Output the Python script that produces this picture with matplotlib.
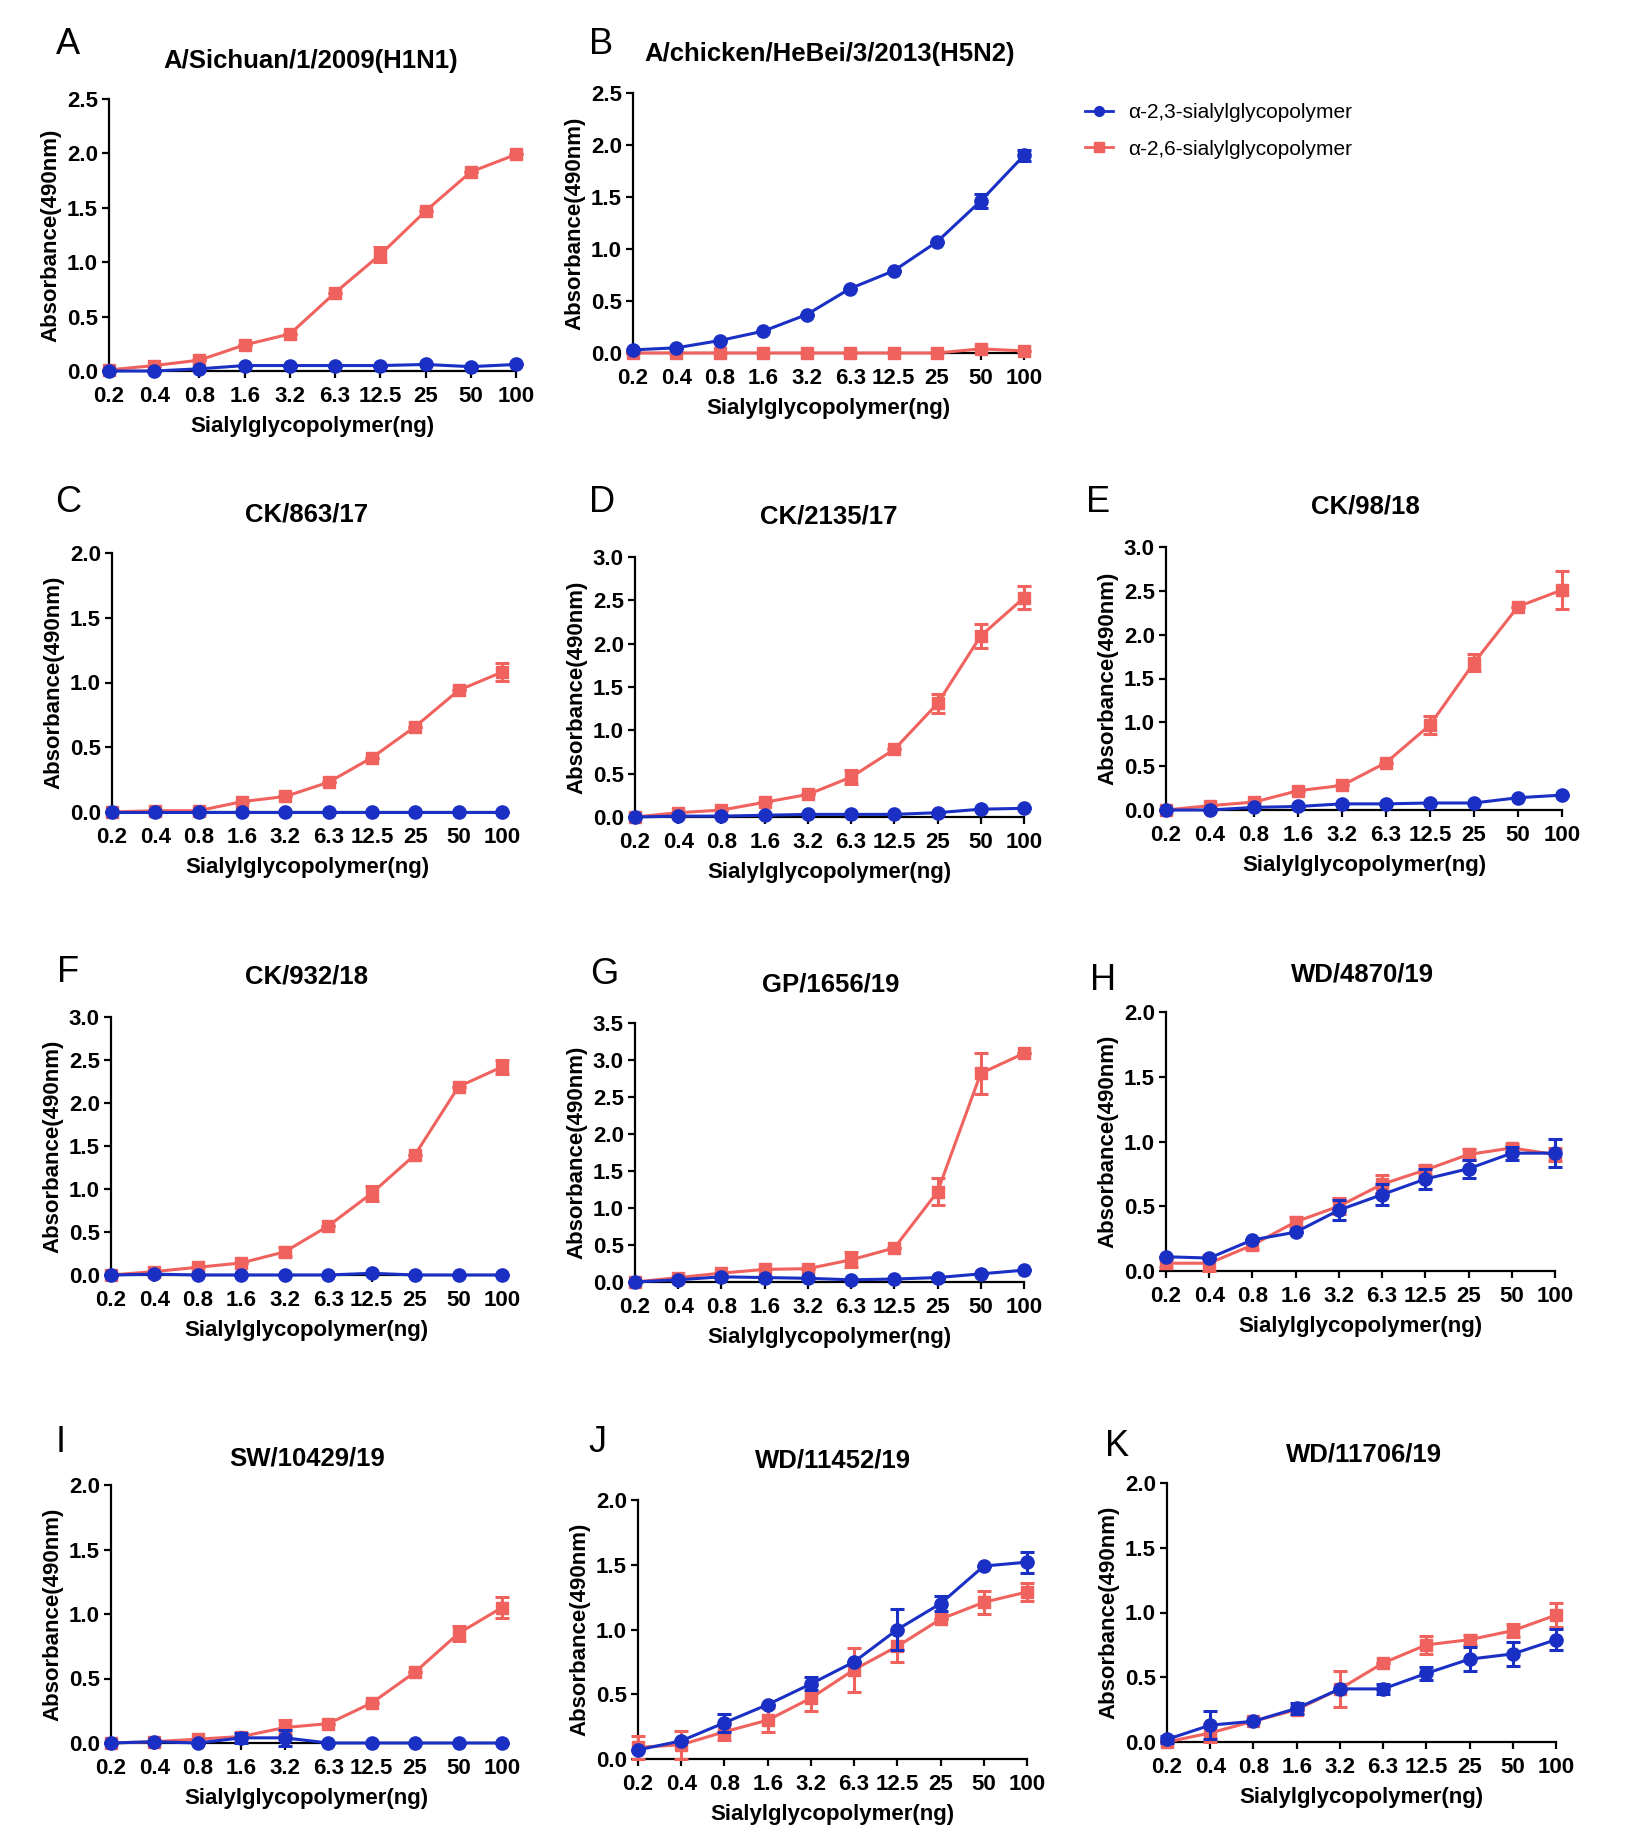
import matplotlib
matplotlib.use("Agg")
import matplotlib.pyplot as plt
from matplotlib.lines import Line2D

W, H = 1627, 1847
plt.rcParams['font.family'] = ['Liberation Sans', 'DejaVu Sans']

doses = ['0.2', '0.4', '0.8', '1.6', '3.2', '6.3', '12.5', '25', '50', '100']
xlabel = 'Sialylglycopolymer(ng)'
ylabel = 'Absorbance(490nm)'
label23 = 'α-2,3-sialylglycopolymer'
label26 = 'α-2,6-sialylglycopolymer'

# mean absorbance and error per virus
A_23 = [0.0, 0.0, 0.02, 0.05, 0.05, 0.05, 0.05, 0.06, 0.04, 0.06]
A_23_err = [0, 0, 0, 0, 0, 0, 0, 0, 0, 0]
A_26 = [0.01, 0.05, 0.10, 0.24, 0.34, 0.72, 1.07, 1.47, 1.83, 1.99]
A_26_err = [0, 0, 0, 0, 0, 0, 0.07, 0, 0, 0]

B_23 = [0.03, 0.05, 0.12, 0.21, 0.37, 0.62, 0.79, 1.07, 1.46, 1.90]
B_23_err = [0, 0, 0, 0, 0, 0, 0, 0, 0.07, 0.05]
B_26 = [0.0, 0.0, 0.0, 0.0, 0.0, 0.0, 0.0, 0.0, 0.04, 0.02]
B_26_err = [0, 0, 0, 0, 0, 0, 0, 0, 0, 0]

C_23 = [0.0, 0.0, 0.0, 0.0, 0.0, 0.0, 0.0, 0.0, 0.0, 0.0]
C_23_err = [0, 0, 0, 0, 0, 0, 0, 0, 0, 0]
C_26 = [0.0, 0.01, 0.01, 0.08, 0.12, 0.23, 0.42, 0.66, 0.94, 1.08]
C_26_err = [0, 0, 0, 0, 0, 0, 0, 0, 0, 0.07]

D_23 = [0.0, 0.01, 0.01, 0.02, 0.03, 0.03, 0.03, 0.05, 0.09, 0.10]
D_23_err = [0, 0, 0, 0, 0, 0, 0, 0, 0, 0]
D_26 = [0.0, 0.05, 0.08, 0.17, 0.26, 0.46, 0.78, 1.31, 2.09, 2.53]
D_26_err = [0, 0, 0, 0, 0, 0.08, 0, 0.11, 0.14, 0.13]

E_23 = [0.0, 0.0, 0.03, 0.04, 0.07, 0.07, 0.08, 0.08, 0.14, 0.17]
E_23_err = [0, 0, 0, 0, 0, 0, 0, 0, 0, 0]
E_26 = [0.0, 0.05, 0.09, 0.22, 0.28, 0.54, 0.97, 1.68, 2.32, 2.51]
E_26_err = [0, 0, 0, 0, 0, 0, 0.10, 0.10, 0, 0.22]

F_23 = [0.0, 0.01, 0.0, 0.0, 0.0, 0.0, 0.02, 0.0, 0.0, 0.0]
F_23_err = [0, 0, 0, 0, 0, 0, 0, 0, 0, 0]
F_26 = [0.0, 0.04, 0.09, 0.14, 0.27, 0.57, 0.95, 1.40, 2.19, 2.42]
F_26_err = [0, 0, 0, 0, 0.05, 0, 0.09, 0, 0, 0.08]

G_23 = [0.0, 0.03, 0.07, 0.06, 0.05, 0.03, 0.04, 0.06, 0.11, 0.16]
G_23_err = [0, 0, 0, 0, 0, 0, 0, 0, 0, 0]
G_26 = [0.0, 0.06, 0.12, 0.17, 0.18, 0.30, 0.46, 1.22, 2.82, 3.09]
G_26_err = [0, 0, 0, 0, 0, 0.10, 0, 0.18, 0.28, 0]

H_23 = [0.11, 0.10, 0.24, 0.30, 0.47, 0.59, 0.71, 0.79, 0.91, 0.91]
H_23_err = [0, 0, 0, 0, 0.08, 0.08, 0.08, 0.07, 0.05, 0.11]
H_26 = [0.06, 0.06, 0.20, 0.38, 0.50, 0.67, 0.78, 0.90, 0.95, 0.90]
H_26_err = [0.03, 0.06, 0.03, 0.04, 0.06, 0.07, 0.04, 0.04, 0.03, 0.05]

I_23 = [0.0, 0.01, 0.0, 0.04, 0.04, 0.0, 0.0, 0.0, 0.0, 0.0]
I_23_err = [0, 0, 0, 0.04, 0.06, 0, 0, 0, 0, 0]
I_26 = [0.0, 0.01, 0.03, 0.05, 0.12, 0.15, 0.31, 0.55, 0.85, 1.05]
I_26_err = [0, 0, 0, 0, 0.06, 0, 0, 0, 0.06, 0.08]

J_23 = [0.07, 0.14, 0.28, 0.42, 0.58, 0.75, 1.00, 1.20, 1.49, 1.52]
J_23_err = [0, 0, 0.07, 0, 0.05, 0, 0.16, 0.06, 0, 0.08]
J_26 = [0.09, 0.11, 0.21, 0.30, 0.47, 0.69, 0.87, 1.08, 1.21, 1.29]
J_26_err = [0.09, 0.11, 0.06, 0.09, 0.10, 0.17, 0.12, 0, 0.09, 0.07]

K_23 = [0.02, 0.13, 0.16, 0.26, 0.41, 0.41, 0.53, 0.64, 0.68, 0.79]
K_23_err = [0.03, 0.11, 0, 0.04, 0, 0.04, 0.05, 0.09, 0.09, 0.08]
K_26 = [0.0, 0.07, 0.16, 0.25, 0.41, 0.61, 0.75, 0.79, 0.86, 0.98]
K_26_err = [0, 0.07, 0, 0, 0.14, 0, 0.07, 0.04, 0.05, 0.09]

# letter, title, ymax
panels = [
    ('A', 'A/Sichuan/1/2009(H1N1)', 2.5, A_23, A_23_err, A_26, A_26_err),
    ('B', 'A/chicken/HeBei/3/2013(H5N2)', 2.5, B_23, B_23_err, B_26, B_26_err),
    ('C', 'CK/863/17', 2.0, C_23, C_23_err, C_26, C_26_err),
    ('D', 'CK/2135/17', 3.0, D_23, D_23_err, D_26, D_26_err),
    ('E', 'CK/98/18', 3.0, E_23, E_23_err, E_26, E_26_err),
    ('F', 'CK/932/18', 3.0, F_23, F_23_err, F_26, F_26_err),
    ('G', 'GP/1656/19', 3.5, G_23, G_23_err, G_26, G_26_err),
    ('H', 'WD/4870/19', 2.0, H_23, H_23_err, H_26, H_26_err),
    ('I', 'SW/10429/19', 2.0, I_23, I_23_err, I_26, I_26_err),
    ('J', 'WD/11452/19', 2.0, J_23, J_23_err, J_26, J_26_err),
    ('K', 'WD/11706/19', 2.0, K_23, K_23_err, K_26, K_26_err),
]

# layout in pixels: y-axis x, top y, zero y, last tick x, title xy, letter xy
layout = [
    (109, 99, 371, 516, 311, 61, 68, 44),
    (633, 93, 353, 1024, 830, 54, 601, 44),
    (112, 553, 812, 502, 307, 514, 68, 502),
    (635, 557, 817, 1024, 829, 517, 602, 502),
    (1166, 547, 810, 1562, 1365, 506, 1098, 502),
    (111, 1017, 1275, 502, 307, 977, 68, 972),
    (635, 1023, 1282, 1024, 831, 984, 604, 975),
    (1166, 1012, 1271, 1555, 1362, 974, 1103, 980),
    (111, 1485, 1743, 502, 307, 1459, 61, 1443),
    (638, 1500, 1759, 1027, 833, 1461, 597, 1443),
    (1167, 1483, 1742, 1556, 1364, 1454, 1117, 1446),
]

blue = '#1a2fc4'
red = '#f0625d'

fig = plt.figure(figsize=(W / 100, H / 100), dpi=100)

for (letter, title, ymax, b, be, r, re), lay in zip(panels, layout):
    x0, ytop, y0, xlast, tx, ty, lx, ly = lay
    ax = fig.add_axes([x0 / W, 1 - y0 / H, (xlast - x0) / W, (y0 - ytop) / H])
    xs = list(range(len(doses)))
    ax.errorbar(xs, r, yerr=re, color=red, marker='s', ms=9, lw=2.2,
                elinewidth=2.2, capsize=5, capthick=2.2, clip_on=False, zorder=3)
    ax.errorbar(xs, b, yerr=be, color=blue, marker='o', ms=9.5, lw=2.2,
                elinewidth=2.2, capsize=5, capthick=2.2, clip_on=False, zorder=4)
    ax.set_xlim(0, len(doses) - 1)
    ax.set_ylim(0, ymax)
    ax.set_xticks(xs)
    ax.set_xticklabels(doses)
    yt = [i * 0.5 for i in range(int(round(ymax / 0.5)) + 1)]
    ax.set_yticks(yt)
    ax.set_yticklabels(['%.1f' % v for v in yt])
    for s in ['top', 'right']:
        ax.spines[s].set_visible(False)
    for s in ['left', 'bottom']:
        ax.spines[s].set_linewidth(1.6)
    ax.tick_params(direction='out', length=5, width=1.6, labelsize=16)
    ax.tick_params(axis='x', pad=6)
    ax.tick_params(axis='y', pad=3)
    for t in ax.get_xticklabels() + ax.get_yticklabels():
        t.set_fontweight('bold')
    ax.set_xlabel(xlabel, fontsize=16, fontweight='bold', labelpad=6)
    ax.set_ylabel(ylabel, fontsize=16, fontweight='bold', labelpad=4)
    fig.text(tx / W, 1 - ty / H, title, ha='center', va='center',
             fontsize=18.5, fontweight='bold')
    fig.text(lx / W, 1 - ly / H, letter, ha='center', va='center', fontsize=26)

handles = [
    Line2D([], [], color=blue, marker='o', ms=7, lw=2),
    Line2D([], [], color=red, marker='s', ms=6.5, lw=2),
]
fig.legend(handles, [label23, label26], loc='upper left',
           bbox_to_anchor=(1085 / W, 1 - 103 / H), frameon=False,
           borderaxespad=0, borderpad=0,
           fontsize=15, handlelength=1.35, handletextpad=0.7, labelspacing=0.85)

fig.savefig('out.png', dpi=100)
